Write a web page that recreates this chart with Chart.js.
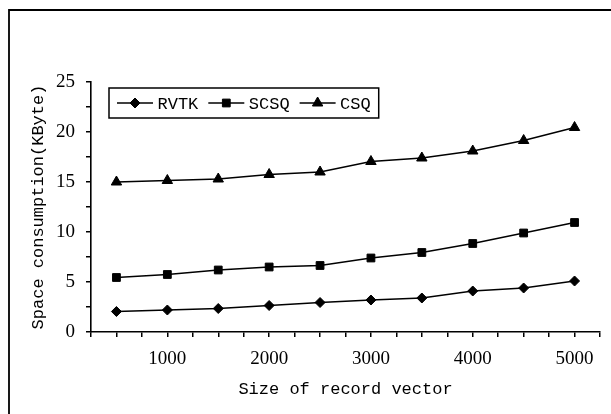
<!DOCTYPE html>
<html>
<head>
<meta charset="utf-8">
<script src="https://cdn.jsdelivr.net/npm/chart.js@4.4.1/dist/chart.umd.min.js"></script>
<style>
html, body { margin: 0; padding: 0; background: #fff; }
#wrap { width: 611px; height: 414px; }
</style>
</head>
<body>
<div id="wrap"><canvas id="chart" width="611" height="414"></canvas></div>
<script>
// --- data ---
const recordSizes = [500, 1000, 1500, 2000, 2500, 3000, 3500, 4000, 4500, 5000];
const rvtk = [2.05, 2.2, 2.35, 2.65, 2.95, 3.2, 3.4, 4.1, 4.4, 5.1];
const scsq = [5.45, 5.75, 6.2, 6.5, 6.65, 7.4, 7.95, 8.85, 9.9, 10.95];
const csq = [15, 15.15, 15.3, 15.75, 16, 17.05, 17.4, 18.1, 19.15, 20.45];
const seriesNames = ['RVTK', 'SCSQ', 'CSQ'];
const xLabelTicks = [1000, 2000, 3000, 4000, 5000];
const yLabelTicks = [0, 5, 10, 15, 20, 25];

const monoFont = "'Liberation Mono', 'DejaVu Sans Mono', monospace";
const serifFont = "'Liberation Serif', 'DejaVu Serif', serif";

Chart.defaults.color = '#000';
Chart.defaults.font.family = serifFont;

function toPoints(values) {
    return recordSizes.map((x, i) => ({ x: x, y: values[i] }));
}

function seriesStyle(label, values, style, radius) {
    return {
        label: label,
        data: toPoints(values),
        borderColor: '#000',
        backgroundColor: '#000',
        borderWidth: 1.5,
        pointStyle: style,
        pointRadius: radius,
        pointBorderWidth: 1,
        pointBackgroundColor: '#000',
        pointBorderColor: '#000',
        tension: 0
    };
}

// white page and the frame (only its left and top edges fall inside the picture)
const framePlugin = {
    id: 'frame',
    beforeDraw(chart) {
        const ctx = chart.ctx;
        ctx.save();
        ctx.fillStyle = '#fff';
        ctx.fillRect(0, 0, chart.width, chart.height);
        ctx.restore();
    },
    afterDraw(chart) {
        const ctx = chart.ctx;
        ctx.save();
        ctx.strokeStyle = '#000';
        ctx.lineWidth = 1.8;
        ctx.beginPath();
        ctx.moveTo(9, chart.height + 5);
        ctx.lineTo(9, 10);
        ctx.lineTo(chart.width + 5, 10);
        ctx.stroke();
        ctx.restore();
    }
};

// boxed legend inside the plot, top left
const legendBoxPlugin = {
    id: 'legendBox',
    afterDraw(chart) {
        const ctx = chart.ctx;
        const area = chart.chartArea;
        const pad = 8, lineLen = 36, textGap = 4.5, itemGap = 10, boxH = 30;
        ctx.save();
        ctx.font = '17px ' + monoFont;
        const widths = chart.data.datasets.map(ds => ctx.measureText(ds.label).width);
        let boxW = pad * 2;
        widths.forEach((w, i) => { boxW += lineLen + textGap + w + (i < widths.length - 1 ? itemGap : 0); });
        const x0 = area.left + 18, y0 = area.top + 6;
        ctx.strokeStyle = '#000';
        ctx.lineWidth = 1.5;
        ctx.strokeRect(x0, y0, boxW, boxH);
        const cy = y0 + boxH / 2;
        let x = x0 + pad;
        chart.data.datasets.forEach((ds, i) => {
            ctx.beginPath();
            ctx.lineWidth = ds.borderWidth;
            ctx.moveTo(x, cy);
            ctx.lineTo(x + lineLen, cy);
            ctx.stroke();
            ctx.fillStyle = '#000';
            ctx.lineWidth = 1;
            Chart.helpers.drawPoint(ctx, {
                pointStyle: ds.pointStyle, radius: ds.pointRadius, rotation: 0, borderWidth: 1
            }, x + lineLen / 2, cy);
            x += lineLen + textGap;
            ctx.fillStyle = '#000';
            ctx.textBaseline = 'middle';
            ctx.textAlign = 'left';
            ctx.fillText(ds.label, x, cy + 1);
            x += widths[i] + itemGap;
        });
        ctx.restore();
    }
};

new Chart(document.getElementById('chart'), {
    type: 'line',
    data: {
        datasets: [
            seriesStyle(seriesNames[0], rvtk, 'rectRot', 5),
            seriesStyle(seriesNames[1], scsq, 'rect', 5.5),
            seriesStyle(seriesNames[2], csq, 'triangle', 6)
        ]
    },
    options: {
        responsive: false,
        animation: false,
        devicePixelRatio: 1,
        layout: { padding: { left: 8, right: 5, top: 82, bottom: 2 } },
        plugins: {
            legend: { display: false },
            tooltip: { enabled: false }
        },
        scales: {
            x: {
                type: 'linear',
                min: 250,
                max: 5250,
                afterFit: scale => { scale.height = 80; },
                border: { color: '#000', width: 1.6 },
                grid: { drawOnChartArea: false, color: '#000', lineWidth: 1.5, tickLength: 5 },
                ticks: {
                    stepSize: 250,
                    autoSkip: false,
                    maxRotation: 0,
                    padding: 11,
                    font: { size: 19, family: serifFont },
                    callback: v => xLabelTicks.includes(v) ? String(v) : ''
                },
                title: {
                    display: true,
                    text: 'Size of record vector',
                    font: { size: 17, family: monoFont },
                    padding: { top: 0, bottom: 12 }
                }
            },
            y: {
                min: 0,
                max: 25,
                afterFit: scale => { scale.width = 83; },
                border: { color: '#000', width: 1.6 },
                grid: { drawOnChartArea: false, color: '#000', lineWidth: 1.5, tickLength: 5 },
                ticks: {
                    stepSize: 2.5,
                    autoSkip: false,
                    padding: 11,
                    font: { size: 19, family: serifFont },
                    callback: v => yLabelTicks.includes(v) ? String(v) : ''
                },
                title: {
                    display: true,
                    text: 'Space consumption(KByte)',
                    font: { size: 17, family: monoFont },
                    padding: { top: 20, bottom: 0 }
                }
            }
        }
    },
    plugins: [framePlugin, legendBoxPlugin]
});
</script>
</body>
</html>
